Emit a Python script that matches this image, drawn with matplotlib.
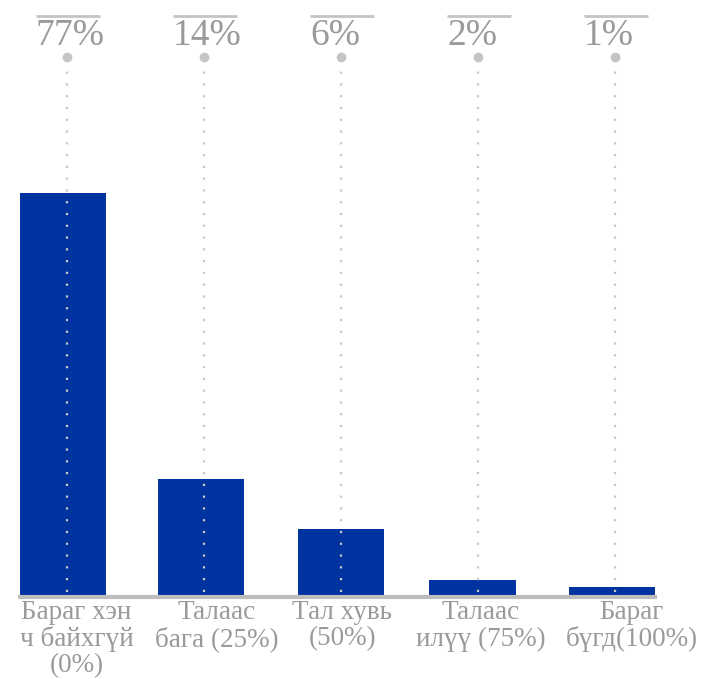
import matplotlib.pyplot as plt
import numpy as np

# data
categories = ["Бараг хэн\nч байхгүй\n(0%)", "Талаас\nбага (25%)", "Тал хувь\n(50%)",
              "Талаас\nилүү (75%)", "Бараг\nбүгд(100%)"]
bar_values = [77, 22.2, 12.6, 2.9, 1.5]
pct_labels = ["77%", "14%", "6%", "2%", "1%"]

blue = "#0033a0"
grey_txt = "#9a9a9a"
grey_line = "#c4c4c4"

plt.rcParams['font.family'] = ['Liberation Serif', 'DejaVu Serif']

fig = plt.figure(figsize=(7.07, 6.79), dpi=100)
# 1 unit on x = 137 px, 1 unit on y = 5.221 px
ax = fig.add_axes([0, 84 / 679, 1, 595 / 679])
ax.set_xlim(-67 / 137, 640 / 137)
ax.set_ylim(0, 595 / 5.221)
ax.axis("off")

x = np.arange(len(categories))
bar_shift = [-0.03, -0.02, 0.0, -0.04, -0.02]
ax.bar(x + np.array(bar_shift), bar_values, width=0.63, color=blue, zorder=2)

# baseline
ax.plot([-49 / 137, 590 / 137], [-0.4, -0.4], color="#bdbdbd", lw=3, zorder=3,
        solid_capstyle="butt", clip_on=False)

top_dot = 103.0
label_shift = [0.07, 0.09, 0.01, 0.02, 0.12]
for i, xi in enumerate(x):
    ax.plot([xi, xi], [0.5, top_dot], color="#c8c8c8", lw=1.6,
            linestyle=(0, (1, 4.3)), zorder=4)
    ax.plot(xi, top_dot, "o", color=grey_line, markersize=7, mec="none", zorder=5)
    ax.plot([xi - 31 / 137, xi + 33 / 137], [110.9, 110.9], color=grey_line,
            lw=2, solid_capstyle="butt", zorder=5)
    ax.text(xi - 31 / 137, 105.3, pct_labels[i], ha="left", va="baseline",
            fontsize=27, color=grey_txt)
    ax.text(xi + label_shift[i], -1.0, categories[i], ha="center", va="top",
            fontsize=19.5, color=grey_txt, linespacing=1.06, clip_on=False)

fig.savefig("out.png", dpi=100)
